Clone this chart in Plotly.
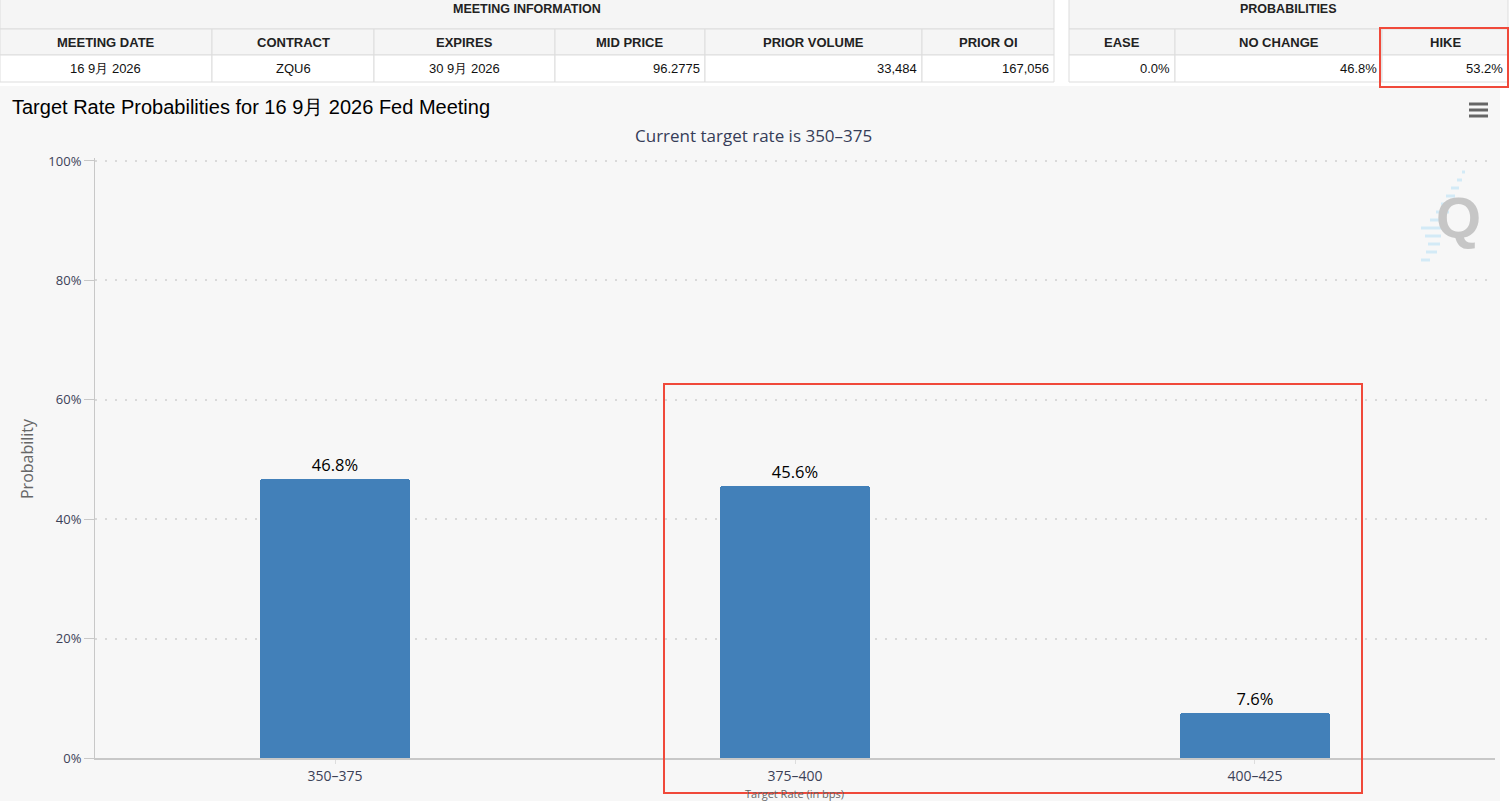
import plotly.graph_objects as go

W, H = 1509, 801

# ---------------- data ----------------
categories = ["350–375", "375–400", "400–425"]
probabilities = [46.8, 45.6, 7.6]
y_tick_values = [0, 20, 40, 60, 80, 100]
y_tick_labels = ["0%", "20%", "40%", "60%", "80%", "100%"]
meeting_label = "16 9月 2026"
current_target = "350–375"

meeting_cols = ["MEETING DATE", "CONTRACT", "EXPIRES", "MID PRICE", "PRIOR VOLUME", "PRIOR OI"]
meeting_vals = ["16 9月 2026", "ZQU6", "30 9月 2026", "96.2775", "33,484", "167,056"]
prob_cols = ["EASE", "NO CHANGE", "HIKE"]
prob_vals = ["0.0%", "46.8%", "53.2%"]

# ---------------- helpers ----------------
def px(x):
    return x / W


def py(y):
    return 1 - y / H


shapes = []
annotations = []

FONT = "Liberation Sans, Arial, sans-serif"
AXFONT = "Open Sans, DejaVu Sans, sans-serif"


def rect(x0, y0, x1, y1, fill, line="#dddddd", lw=1, layer="below"):
    shapes.append(dict(type="rect", xref="paper", yref="paper",
                       x0=px(x0), x1=px(x1), y0=py(y1), y1=py(y0),
                       fillcolor=fill, line=dict(color=line, width=lw), layer=layer))


def text(x, y, s, size=12, color="#222", bold=False, xanchor="center", family=FONT, angle=0):
    annotations.append(dict(xref="paper", yref="paper", x=px(x), y=py(y), text=("<b>%s</b>" % s) if bold else s,
                            showarrow=False, xanchor=xanchor, yanchor="middle", textangle=angle,
                            borderpad=0, borderwidth=0,
                            font=dict(size=size, color=color, family=family)))


# chart background region
rect(0, 86, 1500, 801, "#f7f7f7", line="rgba(0,0,0,0)", lw=0)

# ---------------- tables ----------------
R0, R1, R2, R3 = 0, 29, 55, 82


def table(edges, title, cols, vals, aligns):
    rect(edges[0], R0 - 2, edges[-1], R1, "#f5f5f5")
    text((edges[0] + edges[-1]) / 2, 9, title, size=12.5, bold=True)
    for i, (c, v, a) in enumerate(zip(cols, vals, aligns)):
        x0, x1 = edges[i], edges[i + 1]
        rect(x0, R1, x1, R2, "#f5f5f5")
        rect(x0, R2, x1, R3, "#ffffff")
        text((x0 + x1) / 2, 42, c, size=13, bold=True)
        if a == "center":
            text((x0 + x1) / 2, 69, v, size=13, color="#111")
        else:
            text(x1 - 5, 69, v, size=13, color="#111", xanchor="right")


table([0, 212, 374, 555, 705, 922, 1054], "MEETING INFORMATION", meeting_cols, meeting_vals,
      ["center", "center", "center", "right", "right", "right"])
table([1069, 1175, 1382, 1508], "PROBABILITIES", prob_cols, prob_vals, ["right", "right", "right"])

# ---------------- chart texts ----------------
text(12, 107, "Target Rate Probabilities for %s Fed Meeting" % meeting_label, size=20, color="#000",
     xanchor="left")
text(753, 136, "Current target rate is %s" % current_target, size=17, color="#363d58", family=AXFONT)
text(27, 459, "Probability", size=16, color="#666", family=AXFONT, angle=-90)
text(795, 793, "Target Rate (in bps)", size=11, color="#666", family=AXFONT)

# hamburger menu
for yy in (104, 110, 116):
    shapes.append(dict(type="line", xref="paper", yref="paper", x0=px(1469), x1=px(1488),
                       y0=py(yy), y1=py(yy), line=dict(color="#666666", width=3)))

# Q watermark
for (xa, xb, yy) in [(1462, 1465, 172), (1457, 1462, 180), (1451, 1459, 188), (1446, 1455, 196),
                     (1441, 1452, 204), (1436, 1449, 212), (1430, 1446, 220), (1421, 1443, 228),
                     (1425, 1441, 236), (1428, 1440, 244), (1426, 1437, 252), (1421, 1430, 260)]:
    shapes.append(dict(type="line", xref="paper", yref="paper", x0=px(xa), x1=px(xb),
                       y0=py(yy), y1=py(yy), line=dict(color="#d3eaf6", width=3)))
text(1458, 217, "<b>Q</b>", size=58, color="#c6c6c6")

# red highlight boxes
rect(1380, 28, 1508, 87, "rgba(0,0,0,0)", line="#f0493a", lw=2, layer="above")
rect(664, 384, 1362, 793, "rgba(0,0,0,0)", line="#f0493a", lw=2, layer="above")

# ---------------- bars ----------------
fig = go.Figure(go.Bar(
    x=categories, y=probabilities, width=0.326,
    marker=dict(color="#4280b9", cornerradius=3, line=dict(width=0)),
    texttemplate="%{y:.1f}%", textposition="outside",
    textfont=dict(size=16.5, color="#000", family=AXFONT),
    cliponaxis=False, hoverinfo="x+y",
))

fig.update_layout(
    width=W, height=H, autosize=False,
    margin=dict(l=0, r=0, t=0, b=0, autoexpand=False),
    paper_bgcolor="#ffffff", plot_bgcolor="#f7f7f7",
    showlegend=False, shapes=shapes, annotations=annotations,
    bargap=0,
    xaxis=dict(domain=[px(95), px(1495)], range=[-0.522, 2.522], type="category",
               automargin=False,
               showgrid=False, showline=True, linecolor="#c8c8c8", linewidth=2,
               ticks="outside", ticklen=4, tickcolor="#dddddd", tickwidth=1,
               tickfont=dict(size=14, color="#3c4257", family=AXFONT), zeroline=False, fixedrange=True),
    yaxis=dict(domain=[py(758), py(158)], range=[0, 100.5], automargin=False,
               tickvals=y_tick_values, ticktext=y_tick_labels,
               showgrid=True, gridcolor="#d9d9d9", gridwidth=2, griddash="2px,8px",
               showline=True, linecolor="#c8c8c8", linewidth=1,
               ticks="outside", ticklen=10, tickcolor="#c8c8c8",
               tickfont=dict(size=13, color="#3c4257", family=AXFONT), zeroline=False, fixedrange=True),
)

fig.write_html("out.html")
